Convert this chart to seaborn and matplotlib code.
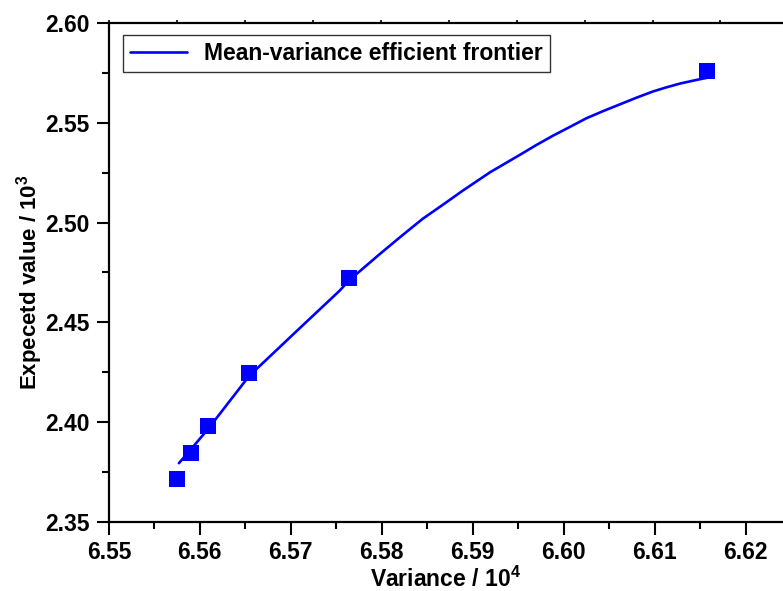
import numpy as np
import pandas as pd
import matplotlib
matplotlib.use("Agg")
import matplotlib.pyplot as plt
from matplotlib.ticker import MultipleLocator, FixedLocator, FormatStrFormatter
import seaborn as sns

# 数据点：方差 (x10^4) 与期望值 (x10^3)
variance = [6.5575, 6.5590, 6.5609, 6.5654, 6.5764, 6.6157]
expected = [2.3715, 2.3845, 2.3980, 2.4247, 2.4720, 2.5760]

# 有效前沿曲线（从图上读出的点）
frontier_var = [6.5577, 6.5589, 6.5609, 6.5654, 6.5705, 6.5754, 6.5764, 6.5798,
                6.5822, 6.5845, 6.5868, 6.5889, 6.5919, 6.5952, 6.5970, 6.5988,
                6.6007, 6.6025, 6.6044, 6.6062, 6.6080, 6.6098, 6.6113, 6.6128,
                6.6144, 6.6159]
frontier_exp = [2.3794, 2.3857, 2.3965, 2.4230, 2.4450, 2.4660, 2.4710, 2.4843,
                2.4934, 2.5019, 2.5092, 2.5160, 2.5252, 2.5340, 2.5389, 2.5435,
                2.5480, 2.5523, 2.5560, 2.5593, 2.5626, 2.5657, 2.5678, 2.5697,
                2.5713, 2.5727]
line_label = "Mean-variance efficient frontier"

df = pd.DataFrame({"variance": variance, "expected": expected})
df_line = pd.DataFrame({"variance": frontier_var, "expected": frontier_exp})

sns.set_style("ticks")
plt.rcParams["font.family"] = ["Liberation Sans", "DejaVu Sans"]
plt.rcParams["font.weight"] = "bold"
plt.rcParams["text.color"] = "black"
plt.rcParams["axes.labelcolor"] = "black"
plt.rcParams["xtick.color"] = "black"
plt.rcParams["ytick.color"] = "black"
plt.rcParams["mathtext.fontset"] = "custom"
plt.rcParams["mathtext.rm"] = "Liberation Sans:bold"
plt.rcParams["mathtext.bf"] = "Liberation Sans:bold"

fig = plt.figure(figsize=(7.83, 5.91), dpi=100)
ax = fig.add_axes([0.139, 0.117, 0.861, 0.844])

# 曲线
sns.lineplot(data=df_line, x="variance", y="expected", sort=False, ax=ax,
             color="#0000FF", lw=1.9, label=line_label)
# 数据点
sns.scatterplot(data=df, x="variance", y="expected", marker="s", s=130,
                color="#0000FF", edgecolor="#0000FF", linewidth=0, ax=ax, zorder=3)

ax.set_xlim(6.55, 6.6241)
ax.set_ylim(2.35, 2.60)
ax.xaxis.set_major_locator(MultipleLocator(0.01))
ax.xaxis.set_minor_locator(MultipleLocator(0.005))
ax.yaxis.set_major_locator(MultipleLocator(0.05))
ax.yaxis.set_minor_locator(MultipleLocator(0.025))
ax.xaxis.set_major_formatter(FormatStrFormatter("%.2f"))
ax.yaxis.set_major_formatter(FormatStrFormatter("%.2f"))

ax.tick_params(axis="both", which="major", direction="out", length=9, width=1.5,
               labelsize=16.5, pad=5)
ax.tick_params(axis="both", which="minor", direction="out", length=5, width=1.5)

for s in ["left", "bottom", "top"]:
    ax.spines[s].set_linewidth(1.6)
    ax.spines[s].set_color("black")
ax.spines["right"].set_visible(False)

# 顶部小刻度
top = ax.secondary_xaxis("top")
top.xaxis.set_major_locator(FixedLocator([6.55 + 0.00747 * k for k in range(10)]))
top.tick_params(direction="out", length=2, width=1.2, labeltop=False)
top.spines["top"].set_visible(False)

ax.set_xlabel(r"Variance / 10$^{4}$", fontsize=16.5, fontweight="bold", labelpad=2)
ax.set_ylabel(r"Expecetd value / 10$^{\mathbf{3}}$", fontsize=16, fontweight="bold")
ax.yaxis.set_label_coords(-0.094, 0.48)

leg = ax.legend(loc="upper left", bbox_to_anchor=(0.0208, 0.976), borderaxespad=0,
                fontsize=16.5, frameon=True, fancybox=False, edgecolor="black",
                handlelength=2.5, borderpad=0.3, handletextpad=0.75)
leg.get_frame().set_linewidth(1.0)
for t in leg.get_texts():
    t.set_fontweight("bold")

fig.savefig("out.png", dpi=100)
